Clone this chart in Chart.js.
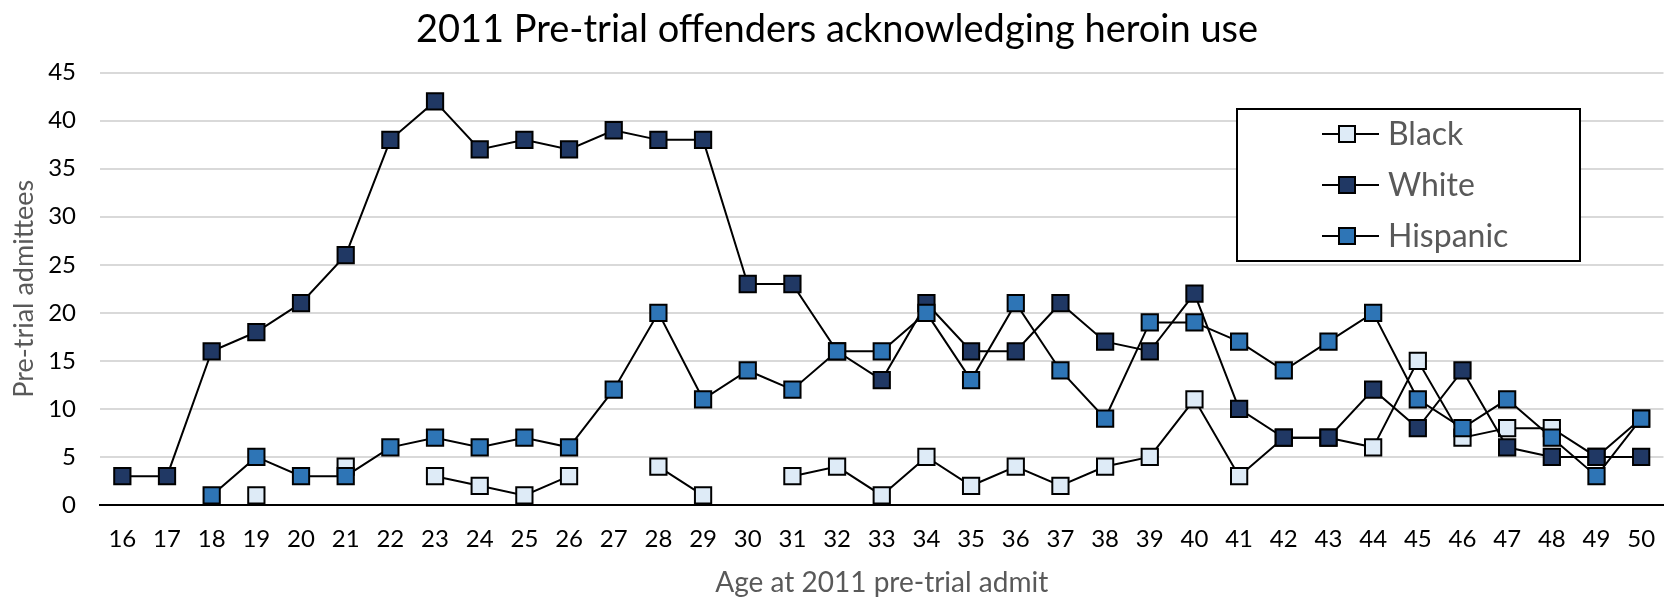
<!DOCTYPE html>
<html>
<head>
<meta charset="utf-8">
<script src="https://cdn.jsdelivr.net/npm/chart.js@4.4.0/dist/chart.umd.min.js"></script>
<style>
  html, body { margin: 0; padding: 0; background: #fff; }
  #wrap { width: 1677px; height: 601px; }
</style>
</head>
<body>
<div id="wrap"><canvas id="chart"></canvas></div>
<script>
// ages on the x axis
const ages = ['16','17','18','19','20','21','22','23','24','25','26','27','28','29','30','31','32','33',
  '34','35','36','37','38','39','40','41','42','43','44','45','46','47','48','49','50'];

// counts per age (null = no point)
const blackCounts = [null,null,null,1,null,4,null,3,2,1,3,null,4,1,null,3,4,1,
  5,2,4,2,4,5,11,3,7,7,6,15,7,8,8,5,9];
const whiteCounts = [3,3,16,18,21,26,38,42,37,38,37,39,38,38,23,23,16,13,
  21,16,16,21,17,16,22,10,7,7,12,8,14,6,5,5,5];
const hispanicCounts = [null,null,1,5,3,3,6,7,6,7,6,12,20,11,14,12,16,16,
  20,13,21,14,9,19,19,17,14,17,20,11,8,11,7,3,9];

const seriesNames = ['Black', 'White', 'Hispanic'];
const seriesColors = ['#DEEBF7', '#203864', '#2E75B6'];
const yMin = 0, yMax = 45, yStep = 5;

const FONT = 'Lato, "Liberation Sans", sans-serif';
Chart.defaults.font.family = FONT;

// boxed legend sitting inside the plot, like the original
const boxLegend = {
  id: 'boxLegend',
  afterDraw(chart) {
    const ctx = chart.ctx;
    const x = 1237, y = 109, w = 343, h = 152;
    ctx.save();
    ctx.fillStyle = '#fff';
    ctx.fillRect(x, y, w, h);
    ctx.strokeStyle = '#000';
    ctx.lineWidth = 2;
    ctx.strokeRect(x, y, w, h);
    ctx.font = '32px ' + FONT;
    ctx.textBaseline = 'middle';
    chart.data.datasets.forEach((ds, i) => {
      const cy = y + 25 + i * 51;
      ctx.beginPath();
      ctx.moveTo(x + 85, cy);
      ctx.lineTo(x + 142, cy);
      ctx.strokeStyle = '#000';
      ctx.lineWidth = 2;
      ctx.stroke();
      ctx.fillStyle = ds.pointBackgroundColor;
      ctx.fillRect(x + 102, cy - 8, 16, 16);
      ctx.strokeRect(x + 102, cy - 8, 16, 16);
      ctx.fillStyle = '#595959';
      ctx.fillText(ds.label, x + 151, cy + 1);
    });
    ctx.restore();
  }
};

const makeSeries = (i, data, order) => ({
  label: seriesNames[i],
  data: data,
  order: order,
  borderColor: '#000',
  borderWidth: 2,
  pointStyle: 'rect',
  pointRadius: 11.5,
  pointHoverRadius: 11.5,
  pointBackgroundColor: seriesColors[i],
  pointBorderColor: '#000',
  pointBorderWidth: 2,
  tension: 0,
  spanGaps: false
});

new Chart(document.getElementById('chart'), {
  type: 'line',
  data: {
    labels: ages,
    datasets: [
      makeSeries(0, blackCounts, 3),
      makeSeries(1, whiteCounts, 2),
      makeSeries(2, hispanicCounts, 1)
    ]
  },
  options: {
    responsive: true,
    maintainAspectRatio: false,
    animation: false,
    events: [],
    layout: { padding: { top: 0, right: 3, bottom: 0, left: 0 } },
    plugins: {
      legend: { display: false },
      tooltip: { enabled: false },
      title: {
        display: true,
        text: '2011 Pre-trial offenders acknowledging heroin use',
        color: '#000',
        font: { size: 38, weight: 'normal' },
        padding: { top: 7, bottom: 20 }
      }
    },
    scales: {
      x: {
        offset: true,
        grid: { display: false, drawTicks: false },
        border: { display: true, color: '#000', width: 2 },
        ticks: { color: '#000', font: { size: 24 }, padding: 20, maxRotation: 0, autoSkip: false },
        title: {
          display: true,
          text: 'Age at 2011 pre-trial admit',
          color: '#595959',
          font: { size: 28 },
          padding: { top: 4, bottom: 1 }
        },
        afterFit(scale) { scale.height = 96; }
      },
      y: {
        min: yMin,
        max: yMax,
        ticks: { stepSize: yStep, padding: 24, color: '#000', font: { size: 24 } },
        grid: {
          color: c => (c.tick && c.tick.value === 0 ? '#000' : '#d9d9d9'),
          lineWidth: 2,
          drawTicks: false
        },
        border: { display: false },
        title: {
          display: true,
          text: 'Pre-trial admittees',
          color: '#595959',
          font: { size: 27 },
          padding: { top: 8, bottom: 8 }
        },
        afterFit(scale) { scale.width = 100; }
      }
    }
  },
  plugins: [boxLegend]
});
</script>
</body>
</html>
